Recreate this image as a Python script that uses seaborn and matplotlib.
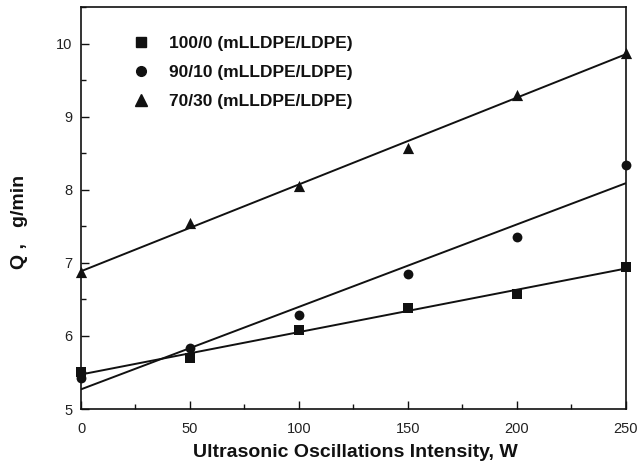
import numpy as np
import pandas as pd
import seaborn as sns
import matplotlib
matplotlib.use("Agg")
import matplotlib.pyplot as plt
from matplotlib.lines import Line2D
from matplotlib.ticker import MultipleLocator

# Data
power = [0, 50, 100, 150, 200, 250]
q_100_0 = [5.50, 5.70, 6.08, 6.38, 6.58, 6.94]
q_90_10 = [5.42, 5.83, 6.28, 6.85, 7.35, 8.34]
q_70_30 = [6.87, 7.55, 8.05, 8.57, 9.30, 9.87]
labels = ["100/0 (mLLDPE/LDPE)", "90/10 (mLLDPE/LDPE)", "70/30 (mLLDPE/LDPE)"]
markers = ["s", "o", "^"]
series = [q_100_0, q_90_10, q_70_30]

sns.set_style("ticks")
plt.rcParams["font.family"] = ["Liberation Sans", "DejaVu Sans"]
plt.rcParams["xtick.direction"] = "in"
plt.rcParams["ytick.direction"] = "in"

fig = plt.figure(figsize=(6.41, 4.69), dpi=100)
ax = fig.add_axes([81/641, (469-409)/469, 544.5/641, 402/469])

msizes = [50, 50, 65]
for vals, m, ms in zip(series, markers, msizes):
    df = pd.DataFrame({"x": power, "y": vals})
    sns.regplot(data=df, x="x", y="y", ax=ax, ci=None, marker=m, color="black",
                scatter_kws={"s": ms, "color": "#111111", "alpha": 1, "linewidths": 0,
                             "clip_on": False, "zorder": 5},
                line_kws={"color": "#111111", "lw": 1.4})

ax.set_xlim(0, 250)
ax.set_ylim(5, 10.5)
ax.xaxis.set_major_locator(MultipleLocator(50))
ax.xaxis.set_minor_locator(MultipleLocator(25))
ax.yaxis.set_major_locator(MultipleLocator(1))
ax.yaxis.set_minor_locator(MultipleLocator(0.5))
ax.tick_params(axis="x", which="major", pad=9)
ax.tick_params(axis="y", which="major", pad=6)
ax.tick_params(which="major", length=6, width=1, labelsize=10.5, top=False, right=False,
               labelcolor="#222222", color="#111111")
ax.tick_params(which="minor", length=3.5, width=1, top=False, right=False, color="#111111")
for s in ax.spines.values():
    s.set_linewidth(1.2)
    s.set_color("#111111")

ax.set_xlabel("Ultrasonic Oscillations Intensity, W", fontsize=14, fontweight="bold", color="#111111")
ax.set_ylabel("Q ,   g/min", fontsize=14, fontweight="bold", color="#111111")
ax.xaxis.set_label_coords(0.503, -0.088)
ax.yaxis.set_label_coords(-0.097, 0.465)

handles = [Line2D([], [], marker=m, linestyle="none", color="#111111", markersize=ms)
           for m, ms in zip(markers, [6.5, 7, 8])]
leg = ax.legend(handles, labels, loc="upper left", bbox_to_anchor=(0.062, 0.968), frameon=False,
                prop={"weight": "bold", "size": 12.5}, handletextpad=1.05, labelspacing=0.8,
                handlelength=1.2, labelcolor="#111111")

fig.savefig("out.png", dpi=100)
